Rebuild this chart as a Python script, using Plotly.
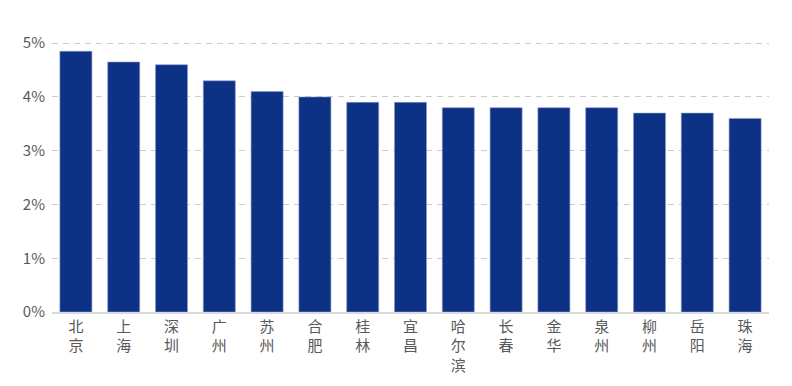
import plotly.graph_objects as go

cities = ["北京", "上海", "深圳", "广州", "苏州", "合肥", "桂林", "宜昌", "哈尔滨",
          "长春", "金华", "泉州", "柳州", "岳阳", "珠海"]
values = [4.85, 4.65, 4.6, 4.3, 4.1, 4.0, 3.9, 3.9, 3.8, 3.8, 3.8, 3.8, 3.7, 3.7, 3.6]
y_ticks = [0, 1, 2, 3, 4, 5]
y_tick_labels = ["0%", "1%", "2%", "3%", "4%", "5%"]

labels = ["<br>".join(list(c)) for c in cities]

fig = go.Figure(go.Bar(
    x=labels, y=values,
    marker=dict(color="#0D3185", line=dict(color="#8A9BC8", width=0.6)),
))
fig.update_layout(
    width=784, height=378,
    margin=dict(l=44, r=23, t=32, b=74),
    plot_bgcolor="white", paper_bgcolor="white",
    bargap=0.33,
    showlegend=False,
    font=dict(family="Noto Sans CJK SC, sans-serif", color="#595959", size=15),
)
fig.update_yaxes(
    range=[0, 5.06], tickvals=y_ticks, ticktext=y_tick_labels,
    showgrid=True, gridcolor="#CCCCCC", griddash="6px,5px", gridwidth=1,
    zeroline=False, showline=False, ticks="", ticklabelstandoff=6,
    automargin=False,
    tickfont=dict(size=15, color="#595959", family="Noto Sans CJK SC, sans-serif"),
)
fig.update_xaxes(
    showline=True, linecolor="#D9D9D9", linewidth=1.5,
    ticks="", tickangle=0, automargin=False,
    tickfont=dict(size=15, color="#595959"),
)
fig.write_html("out.html")
